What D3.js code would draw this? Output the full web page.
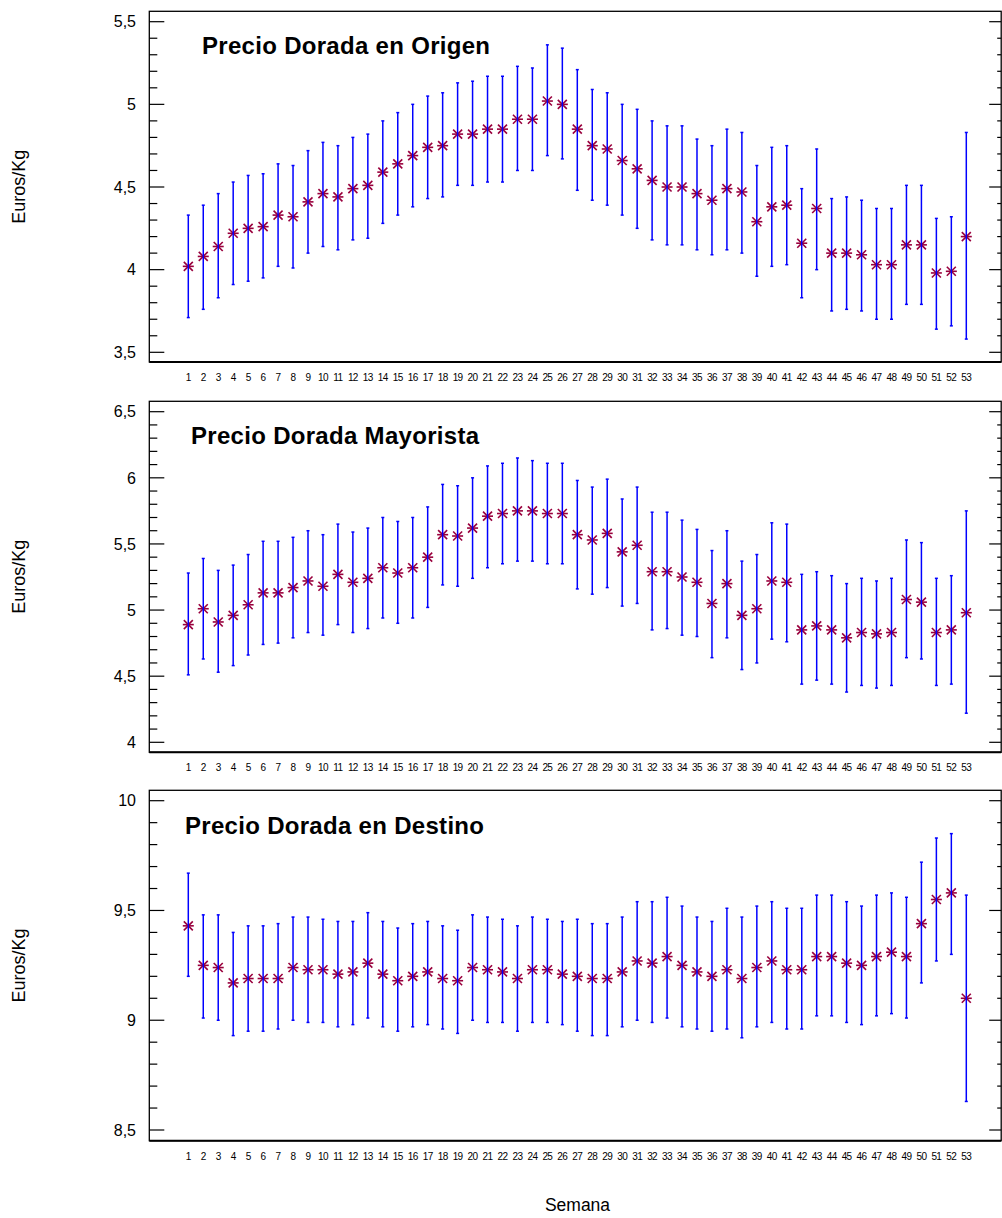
<!DOCTYPE html>
<html>
<head>
<meta charset="utf-8">
<script src="https://cdn.jsdelivr.net/npm/d3@7"></script>
<style>
  body { margin: 0; background: #fff; }
  svg { display: block; }
  text { font-family: "Liberation Sans", Arial, sans-serif; fill: #000; }
</style>
</head>
<body>
<svg id="chart" width="1002" height="1218"></svg>
<script>
// ---------- DATA ----------
const weeks = [1,2,3,4,5,6,7,8,9,10,11,12,13,14,15,16,17,18,19,20,21,22,23,24,25,26,27,
  28,29,30,31,32,33,34,35,36,37,38,39,40,41,42,43,44,45,46,47,48,49,50,51,52,53];

const titles = ["Precio Dorada en Origen", "Precio Dorada Mayorista", "Precio Dorada en Destino"];
const yAxisTitle = "Euros/Kg";
const xAxisTitle = "Semana";

const origenTicks = ["3,5", "4", "4,5", "5", "5,5"];
const origenTickValues = [3.5, 4, 4.5, 5, 5.5];
const origenMean = [4.02,4.08,4.14,4.22,4.25,4.26,4.33,4.32,4.41,4.46,4.44,4.49,4.51,4.59,4.64,4.69,4.74,4.75,4.82,4.82,4.85,4.85,4.91,4.91,
  5.02,5.00,4.85,4.75,4.73,4.66,4.61,4.54,4.50,4.50,4.46,4.42,4.49,4.47,4.29,4.38,4.39,4.16,4.37,4.10,4.10,4.09,4.03,4.03,4.15,4.15,3.98,3.99,4.20];
const origenUpper = [4.33,4.39,4.46,4.53,4.57,4.58,4.64,4.63,4.72,4.77,4.75,4.80,4.82,4.90,4.95,5.00,5.05,5.07,5.13,5.14,5.17,5.17,5.23,5.22,
  5.36,5.34,5.21,5.09,5.07,5.00,4.97,4.90,4.87,4.87,4.79,4.75,4.85,4.83,4.63,4.74,4.75,4.49,4.73,4.43,4.44,4.42,4.37,4.37,4.51,4.51,4.31,4.32,4.83];
const origenLower = [3.71,3.76,3.83,3.91,3.93,3.95,4.02,4.01,4.10,4.14,4.12,4.18,4.19,4.28,4.33,4.38,4.43,4.44,4.51,4.51,4.53,4.53,4.60,4.60,
  4.69,4.67,4.48,4.42,4.39,4.33,4.25,4.18,4.15,4.15,4.12,4.09,4.12,4.10,3.96,4.02,4.03,3.83,4.00,3.75,3.76,3.75,3.70,3.70,3.79,3.79,3.64,3.66,3.58];

const mayoristaTicks = ["4", "4,5", "5", "5,5", "6", "6,5"];
const mayoristaTickValues = [4, 4.5, 5, 5.5, 6, 6.5];
const mayoristaMean = [4.89,5.01,4.91,4.96,5.04,5.13,5.13,5.17,5.22,5.18,5.27,5.21,5.24,5.32,5.28,5.32,5.40,5.57,5.56,5.62,5.71,5.73,5.75,5.75,
  5.73,5.73,5.57,5.53,5.58,5.44,5.49,5.29,5.29,5.25,5.21,5.05,5.20,4.96,5.01,5.22,5.21,4.85,4.88,4.85,4.79,4.83,4.82,4.83,5.08,5.06,4.83,4.85,4.98];
const mayoristaUpper = [5.28,5.39,5.30,5.34,5.42,5.52,5.52,5.55,5.60,5.57,5.65,5.59,5.62,5.70,5.67,5.70,5.78,5.95,5.94,6.00,6.09,6.11,6.15,6.13,
  6.11,6.11,5.98,5.93,5.99,5.84,5.93,5.74,5.74,5.68,5.61,5.45,5.60,5.37,5.42,5.66,5.65,5.27,5.29,5.26,5.20,5.24,5.22,5.24,5.53,5.51,5.24,5.26,5.75];
const mayoristaLower = [4.51,4.63,4.53,4.58,4.66,4.74,4.75,4.79,4.83,4.81,4.89,4.83,4.86,4.94,4.90,4.94,5.02,5.19,5.18,5.24,5.32,5.35,5.37,5.37,
  5.35,5.35,5.16,5.12,5.17,5.03,5.05,4.85,4.86,4.81,4.80,4.64,4.79,4.55,4.60,4.78,4.76,4.44,4.47,4.44,4.38,4.43,4.41,4.43,4.64,4.63,4.43,4.44,4.22];

const destinoTicks = ["8,5", "9", "9,5", "10"];
const destinoTickValues = [8.5, 9, 9.5, 10];
const destinoMean = [9.43,9.25,9.24,9.17,9.19,9.19,9.19,9.24,9.23,9.23,9.21,9.22,9.26,9.21,9.18,9.20,9.22,9.19,9.18,9.24,9.23,9.22,9.19,9.23,
  9.23,9.21,9.20,9.19,9.19,9.22,9.27,9.26,9.29,9.25,9.22,9.20,9.23,9.19,9.24,9.27,9.23,9.23,9.29,9.29,9.26,9.25,9.29,9.31,9.29,9.44,9.55,9.58,9.10];
const destinoUpper = [9.67,9.48,9.48,9.40,9.43,9.43,9.44,9.47,9.47,9.46,9.45,9.45,9.49,9.45,9.42,9.44,9.45,9.43,9.41,9.48,9.47,9.46,9.43,9.47,
  9.46,9.45,9.46,9.44,9.44,9.47,9.54,9.54,9.56,9.52,9.47,9.45,9.51,9.47,9.52,9.54,9.51,9.51,9.57,9.57,9.54,9.52,9.57,9.58,9.56,9.72,9.83,9.85,9.57];
const destinoLower = [9.20,9.01,9.00,8.93,8.95,8.95,8.96,9.00,8.99,8.99,8.97,8.98,9.01,8.97,8.95,8.97,8.98,8.96,8.94,9.00,8.99,8.99,8.95,8.99,
  8.99,8.98,8.95,8.93,8.93,8.97,9.00,8.99,9.01,8.97,8.96,8.95,8.96,8.92,8.97,8.99,8.96,8.96,9.02,9.02,8.99,8.98,9.02,9.03,9.01,9.17,9.27,9.30,8.63];

// ---------- LAYOUT ----------
const svg = d3.select("#chart");
const frameLeft = 149.3, frameRight = 1001.2;
const x = d3.scaleLinear().domain([1, 53]).range([188.3, 966.3]);

const panels = [
  { title: titles[0], mean: origenMean, upper: origenUpper, lower: origenLower,
    ticks: origenTicks, tickValues: origenTickValues, domain: [3.5, 5.5], range: [352.3, 21.7],
    top: 11.3, bottom: 362, titleX: 202, titleY: 54 },
  { title: titles[1], mean: mayoristaMean, upper: mayoristaUpper, lower: mayoristaLower,
    ticks: mayoristaTicks, tickValues: mayoristaTickValues, domain: [4, 6.5], range: [742.3, 411.7],
    top: 401.3, bottom: 752.3, titleX: 191, titleY: 444 },
  { title: titles[2], mean: destinoMean, upper: destinoUpper, lower: destinoLower,
    ticks: destinoTicks, tickValues: destinoTickValues, domain: [8.5, 10], range: [1130, 800.7],
    top: 790.3, bottom: 1140.7, titleX: 185, titleY: 834 }
];

const markerColor = "#99003d";
const barColor = "#0000ff";

panels.forEach(p => {
  const y = d3.scaleLinear().domain(p.domain).range(p.range);
  const g = svg.append("g");

  // minor ticks every 0.1
  const n = Math.round((p.domain[1] - p.domain[0]) * 10);
  const minor = d3.range(n + 1).map(i => p.domain[0] + i / 10);
  minor.forEach((v, i) => {
    const major = i % 5 === 0;
    const yy = y(v);
    g.append("line").attr("x1", frameLeft).attr("x2", frameLeft + (major ? 15 : 8))
      .attr("y1", yy).attr("y2", yy).attr("stroke", "#000").attr("stroke-width", 1.2);
    g.append("line").attr("x1", frameRight).attr("x2", frameRight - (major ? 12 : 4))
      .attr("y1", yy).attr("y2", yy).attr("stroke", "#000").attr("stroke-width", 1.2);
  });

  // frame
  g.append("rect").attr("x", frameLeft).attr("y", p.top)
    .attr("width", frameRight - frameLeft).attr("height", p.bottom - p.top)
    .attr("fill", "none").attr("stroke", "#000").attr("stroke-width", 1.3);
  g.append("line").attr("x1", frameLeft).attr("x2", frameRight)
    .attr("y1", p.bottom).attr("y2", p.bottom).attr("stroke", "#000").attr("stroke-width", 2);

  // y tick labels
  p.tickValues.forEach((v, i) => {
    g.append("text").attr("x", 136).attr("y", y(v)).attr("dy", "0.36em")
      .attr("text-anchor", "end").style("font-size", "16px").text(p.ticks[i]);
  });

  // x tick labels
  weeks.forEach(w => {
    g.append("text").attr("x", x(w)).attr("y", p.bottom + 19)
      .attr("text-anchor", "middle").style("font-size", "10px")
      .style("letter-spacing", "-0.6px").text(w);
  });

  // title
  g.append("text").attr("x", p.titleX).attr("y", p.titleY)
    .style("font-size", "24px").style("font-weight", "bold")
    .style("letter-spacing", "0.3px").text(p.title);

  // y axis title
  g.append("text").attr("transform", `translate(25,${(p.top + p.bottom) / 2}) rotate(-90)`)
    .attr("text-anchor", "middle").style("font-size", "18px").text(yAxisTitle);

  // markers (asterisk)
  const pts = g.append("g");
  weeks.forEach((w, i) => {
    const cx = x(w), cy = y(p.mean[i]);
    const s = 4.5;
    const m = pts.append("g").attr("stroke", markerColor).attr("stroke-width", 1.6);
    m.append("line").attr("x1", cx - s).attr("y1", cy - s).attr("x2", cx + s).attr("y2", cy + s);
    m.append("line").attr("x1", cx - s).attr("y1", cy + s).attr("x2", cx + s).attr("y2", cy - s);
    m.append("line").attr("x1", cx - s - 1).attr("y1", cy).attr("x2", cx + s + 1).attr("y2", cy);
  });

  // error bars
  const eb = g.append("g").attr("stroke", barColor).attr("stroke-width", 1.5);
  weeks.forEach((w, i) => {
    const cx = x(w);
    eb.append("line").attr("x1", cx).attr("x2", cx)
      .attr("y1", y(p.upper[i])).attr("y2", y(p.lower[i]));
    eb.append("line").attr("x1", cx - 1.5).attr("x2", cx + 1.5)
      .attr("y1", y(p.upper[i])).attr("y2", y(p.upper[i]));
    eb.append("line").attr("x1", cx - 1.5).attr("x2", cx + 1.5)
      .attr("y1", y(p.lower[i])).attr("y2", y(p.lower[i]));
  });
});

svg.append("text").attr("x", 577.5).attr("y", 1211).attr("text-anchor", "middle")
  .style("font-size", "17.5px").text(xAxisTitle);
</script>
</body>
</html>
